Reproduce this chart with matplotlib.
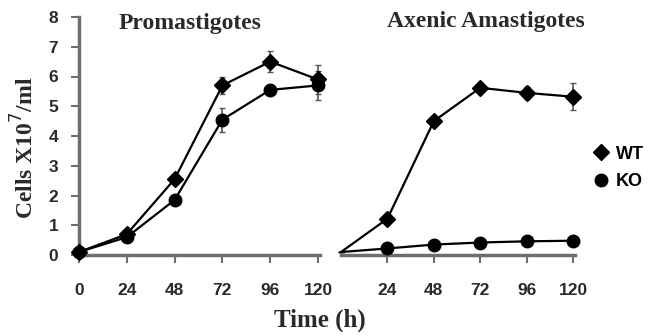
import matplotlib
matplotlib.use("Agg")
import matplotlib.pyplot as plt
from matplotlib.lines import Line2D

# data (cells x10^7/ml)
hours = [0, 24, 48, 72, 96, 120]
pro_wt = [0.1, 0.7, 2.55, 5.7, 6.5, 5.9]
pro_wt_err = [0.05, 0.1, 0.15, 0.3, 0.35, 0.5]
pro_ko = [0.1, 0.6, 1.85, 4.55, 5.55, 5.7]
pro_ko_err = [0.05, 0.1, 0.15, 0.4, 0.1, 0.5]
ama_wt = [0.1, 1.22, 4.5, 5.62, 5.45, 5.32]
ama_wt_err = [0.0, 0.1, 0.15, 0.15, 0.2, 0.45]
ama_ko = [0.1, 0.22, 0.35, 0.42, 0.46, 0.48]
ama_ko_err = [0.0, 0.05, 0.05, 0.05, 0.05, 0.05]
ticks_pro = [0, 24, 48, 72, 96, 120]
ticks_ama = [24, 48, 72, 96, 120]

SERIF = 'Liberation Serif'
SANS = 'Liberation Sans'
SPINE = '#6e6e6e'
TXT = '#2a2a2a'

fig = plt.figure(figsize=(6.59, 3.36), dpi=100)
ax1 = fig.add_axes([79 / 659, 81 / 336, 241 / 659, 238 / 336])
ax2 = fig.add_axes([341 / 659, 81 / 336, 234 / 659, 238 / 336])


def draw(ax, wt, wt_err, ko, ko_err, first_marker=True):
    mev = None if first_marker else list(range(1, len(hours)))
    ax.errorbar(hours, wt, yerr=wt_err, color='black', lw=1.6, marker='D', markevery=mev,
                ms=8, ecolor='#555555', elinewidth=1.2, capsize=2, clip_on=False, zorder=3)
    ax.errorbar(hours, ko, yerr=ko_err, color='black', lw=1.6, marker='o', markevery=mev,
                ms=9, ecolor='#555555', elinewidth=1.2, capsize=2, clip_on=False, zorder=3)
    ax.set_ylim(0, 8)
    ax.set_xlim(0, 121)
    for s in ['top', 'right']:
        ax.spines[s].set_visible(False)
    ax.spines['bottom'].set_color(SPINE)
    ax.spines['bottom'].set_linewidth(2.5)
    ax.tick_params(axis='x', direction='out', length=6, width=1.5, color=SPINE, pad=14)
    for lab in ax.get_xticklabels():
        lab.set_fontfamily(SANS)
        lab.set_fontweight('bold')
        lab.set_fontsize(12.5)
        lab.set_color(TXT)


ax1.set_xticks(ticks_pro)
ax2.set_xticks(ticks_ama)
draw(ax1, pro_wt, pro_wt_err, pro_ko, pro_ko_err)
draw(ax2, ama_wt, ama_wt_err, ama_ko, ama_ko_err, first_marker=False)

ax1.spines['left'].set_color(SPINE)
ax1.spines['left'].set_linewidth(2.5)
ax1.set_yticks(range(0, 9))
ax1.tick_params(axis='y', direction='out', length=6, width=1.5, color=SPINE, pad=9)
for lab in ax1.get_yticklabels():
    lab.set_fontfamily(SANS)
    lab.set_fontweight('bold')
    lab.set_fontsize(12.5)
    lab.set_color(TXT)

ax2.spines['left'].set_visible(False)
ax2.set_yticks([])

fig.text(190 / 659, 1 - 24 / 336, 'Promastigotes', ha='center', va='center',
         family=SERIF, weight='bold', fontsize=17, color=TXT)
fig.text(486 / 659, 1 - 21 / 336, 'Axenic Amastigotes', ha='center', va='center',
         family=SERIF, weight='bold', fontsize=17, color=TXT)

fig.text(25 / 659, 1 - 148 / 336, r'Cells X10$^{7}$/ml', rotation=90, ha='center', va='center',
         family=SERIF, weight='bold', fontsize=17, color=TXT)
fig.text(320 / 659, 1 - 320 / 336, 'Time (h)', ha='center', va='center',
         family=SERIF, weight='bold', fontsize=18, color=TXT)

handles = [Line2D([], [], color='black', marker='D', ms=8, lw=0),
           Line2D([], [], color='black', marker='o', ms=9, lw=0)]
fig.legend(handles, ['WT', 'KO'], loc='center left', bbox_to_anchor=(578 / 659, 1 - 168 / 336),
           frameon=False, handlelength=0.8, handletextpad=0.4, labelspacing=0.6,
           prop={'family': SANS, 'weight': 'bold', 'size': 13})

fig.savefig('out.png', dpi=100)
